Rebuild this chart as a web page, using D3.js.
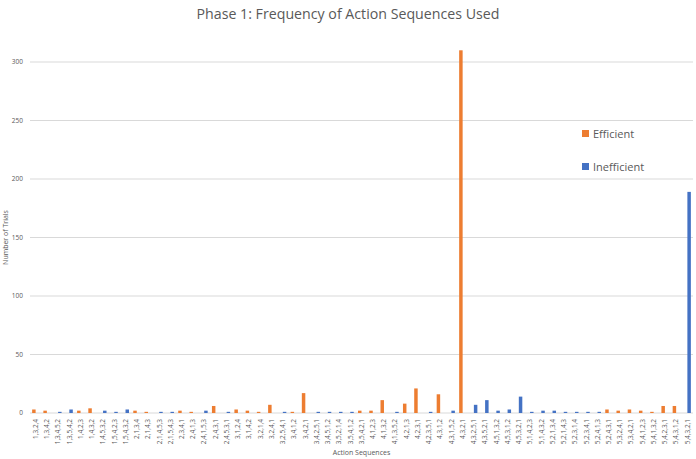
<!DOCTYPE html>
<html>
<head>
<meta charset="utf-8">
<script src="https://cdn.jsdelivr.net/npm/d3@7"></script>
<style>
  body { margin: 0; background: #fff; }
  text { font-family: "Open Sans", "Noto Sans", sans-serif; fill: #595959; }
</style>
</head>
<body>
<div id="chart"></div>
<script>
// categories (action sequences)
const sequences = [
  "1,3,2,4", "1,3,4,2", "1,3,4,5,2", "1,3,5,4,2", "1,4,2,3", "1,4,3,2", "1,4,5,3,2", "1,5,4,2,3", "1,5,4,3,2",
  "2,1,3,4", "2,1,4,3", "2,1,4,5,3", "2,1,5,4,3", "2,3,4,1", "2,4,1,3", "2,4,1,5,3", "2,4,3,1", "2,4,5,3,1",
  "3,1,2,4", "3,1,4,2", "3,2,1,4", "3,2,4,1", "3,2,5,4,1", "3,4,1,2", "3,4,2,1", "3,4,2,5,1", "3,4,5,1,2",
  "3,5,2,1,4", "3,5,4,1,2", "3,5,4,2,1", "4,1,2,3", "4,1,3,2", "4,1,3,5,2", "4,2,1,3", "4,2,3,1", "4,2,3,5,1",
  "4,3,1,2", "4,3,1,5,2", "4,3,2,1", "4,3,2,5,1", "4,3,5,2,1", "4,5,1,3,2", "4,5,3,1,2", "4,5,3,2,1",
  "5,1,4,2,3", "5,1,4,3,2", "5,2,1,3,4", "5,2,1,4,3", "5,2,3,1,4", "5,2,3,4,1", "5,2,4,1,3", "5,2,4,3,1",
  "5,3,2,4,1", "5,3,4,2,1", "5,4,1,2,3", "5,4,1,3,2", "5,4,2,3,1", "5,4,3,1,2", "5,4,3,2,1"
]
// series values
const efficient = [
  3, 2, 0, 0, 2, 4, 0, 0, 0,
  2, 1, 0, 0, 2, 1, 0, 6, 0,
  3, 2, 1, 7, 0, 1, 17, 0, 0,
  0, 0, 2, 2, 11, 0, 8, 21, 0,
  16, 0, 310, 0, 0, 0, 0, 0,
  0, 0, 0, 0, 0, 0, 0, 3,
  2, 3, 2, 1, 6, 6, 0
]
const inefficient = [
  0, 0, 1, 3, 0, 0, 2, 1, 3,
  0, 0, 1, 1, 0, 0, 2, 0, 1,
  0, 0, 0, 0, 1, 0, 0, 1, 1,
  1, 1, 0, 0, 0, 1, 0, 0, 1,
  0, 2, 0, 7, 11, 2, 3, 14,
  1, 2, 2, 1, 1, 1, 1, 0,
  0, 0, 0, 0, 0, 0, 189
]
const seriesNames = ["Efficient", "Inefficient"]
const yTicks = [0, 50, 100, 150, 200, 250, 300]

const color = d3.scaleOrdinal().domain(seriesNames).range(["#ED7D31", "#4472C4"])

const margin = { top: 62, right: 3, bottom: 46, left: 30 }
const W = 696, H = 459
const width = W - margin.left - margin.right
const height = H - margin.top - margin.bottom

const svg = d3.select("#chart").append("svg")
  .attr("width", W).attr("height", H)

// title
svg.append("text")
  .attr("x", W / 2).attr("y", 19)
  .attr("text-anchor", "middle")
  .style("font-size", "14.2px")
  .text("Phase 1: Frequency of Action Sequences Used")

const g = svg.append("g").attr("transform", `translate(${margin.left},${margin.top})`)

const x0 = d3.scaleBand().domain(sequences).range([0, width]).paddingInner(0.38).paddingOuter(0.19)
const x1 = d3.scaleBand().domain(seriesNames).range([0, x0.bandwidth()])
const y = d3.scaleLinear().domain([0, 300]).range([height, 0])

// gridlines
g.selectAll("line.grid").data(yTicks).enter().append("line")
  .attr("class", "grid")
  .attr("x1", 0).attr("x2", width)
  .attr("y1", d => y(d)).attr("y2", d => y(d))
  .attr("stroke", "#d9d9d9").attr("stroke-width", 1)

// y tick labels
g.selectAll("text.ytick").data(yTicks).enter().append("text")
  .attr("class", "ytick")
  .attr("x", -7).attr("y", d => y(d))
  .attr("dy", "0.35em")
  .attr("text-anchor", "end")
  .style("font-size", "6.5px")
  .text(d => d)

// bars
const data = sequences.map((s, i) => ({ seq: s, values: [efficient[i], inefficient[i]] }))
const groups = g.selectAll("g.cat").data(data).enter().append("g")
  .attr("class", "cat")
  .attr("transform", d => `translate(${x0(d.seq)},0)`)
groups.selectAll("rect").data(d => d.values.map((v, k) => ({ key: seriesNames[k], v })))
  .enter().append("rect")
  .attr("x", d => x1(d.key))
  .attr("width", x1.bandwidth())
  .attr("y", d => y(d.v))
  .attr("height", d => height - y(d.v))
  .attr("fill", d => color(d.key))

// x category labels
g.selectAll("text.xtick").data(sequences).enter().append("text")
  .attr("class", "xtick")
  .attr("transform", d => `translate(${x0(d) + x0.bandwidth() / 2},${height + 6}) rotate(-90)`)
  .attr("text-anchor", "end")
  .attr("dy", "0.35em")
  .style("font-size", "6.5px")
  .text(d => d)

// axis titles
svg.append("text")
  .attr("x", margin.left + width / 2).attr("y", 455)
  .attr("text-anchor", "middle")
  .style("font-size", "7px")
  .text("Action Sequences")
svg.append("text")
  .attr("transform", `translate(8,${margin.top + height / 2}) rotate(-90)`)
  .attr("text-anchor", "middle")
  .style("font-size", "7px")
  .text("Number of Trials")

// legend
const legend = svg.append("g").attr("transform", "translate(582,134)")
seriesNames.forEach((n, i) => {
  const row = legend.append("g").attr("transform", `translate(0,${i * 33})`)
  row.append("rect").attr("x", 0).attr("y", -4).attr("width", 7).attr("height", 7).attr("fill", color(n))
  row.append("text").attr("x", 11).attr("y", 0).attr("dy", "0.35em")
    .style("font-size", "11px").text(n)
})
</script>
</body>
</html>
